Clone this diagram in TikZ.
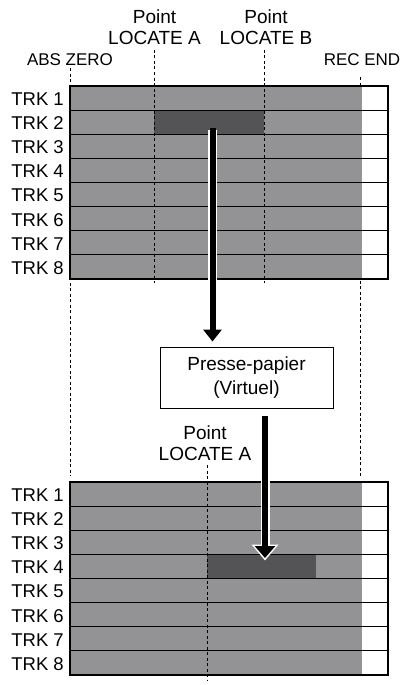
\documentclass[tikz,border=0pt]{standalone}
\usepackage{fontspec}
\setmainfont{Liberation Sans}
\usetikzlibrary{arrows.meta,positioning}
\definecolor{trackgray}{RGB}{147,147,149}
\definecolor{clipgray}{RGB}{84,84,86}

\begin{document}
\begin{tikzpicture}[x=1pt,y=-1pt,
	txt/.style={font=\fontsize{17}{21}\selectfont, inner sep=0pt, align=center},
	pointtxt/.style={font=\fontsize{19}{21}\selectfont, inner sep=0pt, align=center},
	trk/.style={font=\fontsize{18.5}{21}\selectfont, inner sep=0pt, anchor=east},
	marker/.style={dash pattern=on 3pt off 2.5pt, line width=0.7pt},
	clipbox/.style={draw, line width=0.9pt, minimum width=173pt, minimum height=61pt, font=\fontsize{19}{24}\selectfont, align=center}]
	\useasboundingbox (0,0) rectangle (403,685);
	
	% end markers
	\draw[marker] (70,68) -- (70,476);
	\draw[marker] (360,77) -- (360,476);
	\node[txt, anchor=south] (abs) at (70,65.5) {ABS ZERO};
	\node[txt, anchor=south] (rec) at (362,65.5) {REC END};
	
	% source tracks
	\fill[trackgray] (70,86) rectangle (362,279);
	\fill[clipgray] (154,110) rectangle (264,134);
	\foreach \i in {1,...,7}
		\draw[line width=0.8pt] (70,86+24.125*\i) -- (388,86+24.125*\i);
	\draw[line width=1.2pt] (70,86) rectangle (388,279);
	\foreach \i in {1,...,8}
		\node[trk] (s\i) at (64,75+24.125*\i) {TRK \i};
	
	\draw[marker] (154,50) -- (154,283);
	\draw[marker] (264.5,50) -- (264.5,283);
	\node[pointtxt, anchor=south] (locA) at (154.5,44.5) {Point\\LOCATE A};
	\node[pointtxt, anchor=south] (locB) at (266,44.5) {Point\\LOCATE B};
	
	% clipboard
	\node[clipbox] (clip) at (246.5,377.5) {Presse-papier\\(Virtuel)};
	
	% target tracks
	\fill[trackgray] (70,482) rectangle (362,675);
	\fill[clipgray] (207,555) rectangle (316,578.5);
	\foreach \i in {1,...,7}
		\draw[line width=0.8pt] (70,482+24.125*\i) -- (388,482+24.125*\i);
	\draw[line width=1.2pt] (70,482) rectangle (388,675);
	\foreach \i in {1,...,8}
		\node[trk] (d\i) at (64,471+24.125*\i) {TRK \i};
	
	\draw[marker] (207,465) -- (207,680);
	\node[pointtxt, anchor=south] (locC) at (205,461) {Point\\LOCATE A};
	
	% copy and paste
	\coordinate (src) at (212.5,128);
	\coordinate (dst) at (265,558);
	\draw[white, line width=9pt, shorten >=20pt] ([yshift=-1.5pt]src) -- (src |- clip.north);
	\draw[line width=6pt, -{Triangle[width=18pt,length=12pt]}, shorten >=5pt] (src) -- (src |- clip.north);
	\draw[white, line width=9pt, -{Triangle[width=26pt,length=16pt]}, shorten <=8pt, shorten >=-2.5pt] (clip.south -| dst) -- (dst);
	\draw[line width=6pt, -{Triangle[width=20pt,length=12pt]}, shorten <=8pt] (clip.south -| dst) -- (dst);
\end{tikzpicture}
\end{document}
